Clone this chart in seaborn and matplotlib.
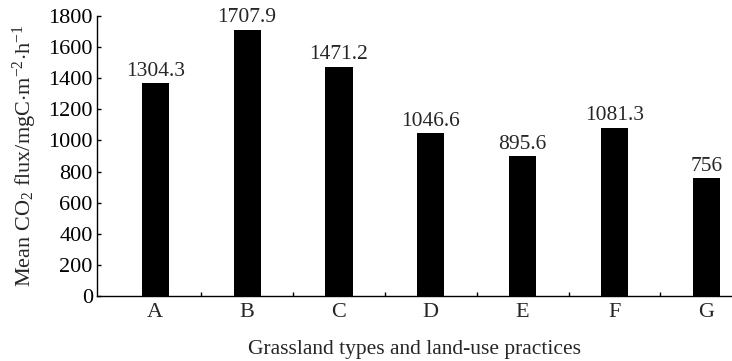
import matplotlib
matplotlib.use("Agg")
import matplotlib.pyplot as plt
import seaborn as sns
import pandas as pd
from matplotlib.ticker import FixedLocator

categories = ["A", "B", "C", "D", "E", "F", "G"]
bar_heights = [1367, 1712, 1474, 1046, 898, 1079, 756]
value_labels = ["1304.3", "1707.9", "1471.2", "1046.6", "895.6", "1081.3", "756"]
y_ticks = [0, 200, 400, 600, 800, 1000, 1200, 1400, 1600, 1800]

sns.set_theme(style="ticks")
plt.rcParams["font.family"] = ["Liberation Serif", "DejaVu Serif"]
plt.rcParams["mathtext.fontset"] = "custom"
plt.rcParams["mathtext.rm"] = "Liberation Serif"
plt.rcParams["mathtext.it"] = "Liberation Serif:italic"

df = pd.DataFrame({"cat": categories, "val": bar_heights})

fig = plt.figure(figsize=(7.32, 3.61), dpi=100)
ax = fig.add_axes([0.1325, 0.18, 0.8675, 0.7757])
sns.barplot(data=df, x="cat", y="val", color="black", width=0.295,
            saturation=1, ax=ax, edgecolor="black", linewidth=0)

ax.set_xlim(-0.635, 6.28)
ax.set_ylim(0, 1800)
ax.set_yticks(y_ticks)
ax.set_yticklabels([str(t) for t in y_ticks], fontsize=16)
ax.xaxis.set_minor_locator(FixedLocator([0.5, 1.5, 2.5, 3.5, 4.5, 5.5]))
ax.tick_params(axis="x", which="major", length=0, pad=5, labelsize=16)
ax.tick_params(axis="x", which="minor", direction="in", length=3, width=1, color="black")
ax.tick_params(axis="y", direction="in", length=3, width=1, pad=3, colors="black")

for s in ["top", "right"]:
    ax.spines[s].set_visible(False)
for s in ["left", "bottom"]:
    ax.spines[s].set_color("black")
    ax.spines[s].set_linewidth(1)

ax.bar_label(ax.containers[0], labels=value_labels, padding=2, fontsize=15.5)

ax.set_xlabel("Grassland types and land-use practices", fontsize=15.5, labelpad=13)
ax.set_ylabel(r"Mean CO$_2$ flux/mgC$\cdot$m$^{-2}$$\cdot$h$^{-1}$", fontsize=16, labelpad=7)

fig.savefig("out.png", dpi=100)
